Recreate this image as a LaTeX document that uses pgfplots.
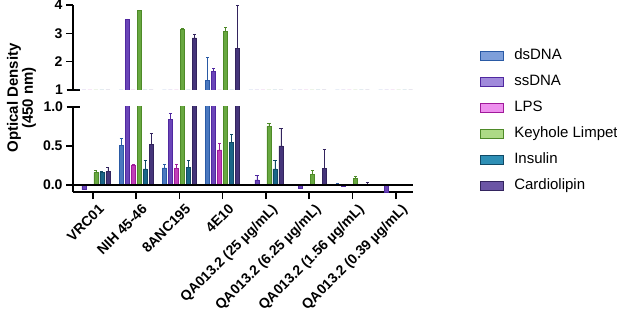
\documentclass[border=0pt]{standalone}
\usepackage{pgfplots}
\pgfplotsset{compat=1.18}
\usepackage{pgfplotstable}
\usepackage{fontspec}
\setmainfont{Liberation Sans}

\definecolor{dsL}{HTML}{2A5AA5}\definecolor{dsF}{HTML}{4A78C0}\definecolor{dsG}{HTML}{7E9FDA}
\definecolor{ssL}{HTML}{5028A0}\definecolor{ssF}{HTML}{6A45B8}\definecolor{ssG}{HTML}{A08ADB}
\definecolor{lpL}{HTML}{A01A9A}\definecolor{lpF}{HTML}{C040B8}\definecolor{lpG}{HTML}{EE90EE}
\definecolor{khL}{HTML}{4E8A28}\definecolor{khF}{HTML}{68A840}\definecolor{khG}{HTML}{ADDA86}
\definecolor{inL}{HTML}{104A66}\definecolor{inF}{HTML}{1A6688}\definecolor{inG}{HTML}{2E8FB5}
\definecolor{caL}{HTML}{33245E}\definecolor{caF}{HTML}{45357A}\definecolor{caG}{HTML}{6B55A5}

\pgfplotstableread{
x y e
0 0.005 0
1 0.51 0.09
2 0.22 0.04
3 1.35 0.79
4 0.01 0
5 0.003 0
6 0.01 0.01
7 0.003 0
}\dsdna
\pgfplotstableread{
x y e
0 -0.06 0
1 3.48 0.03
2 0.84 0.08
3 1.67 0.10
4 0.065 0.06
5 -0.04 0
6 -0.02 0
7 -0.09 0
}\ssdna
\pgfplotstableread{
x y e
0 0.003 0
1 0.25 0.02
2 0.21 0.06
3 0.45 0.08
4 0.003 0
5 0.003 0
6 0.003 0
7 0.003 0
}\lps
\pgfplotstableread{
x y e
0 0.16 0.03
1 3.80 0.02
2 3.15 0.04
3 3.07 0.15
4 0.75 0.04
5 0.14 0.05
6 0.085 0.03
7 0.005 0
}\klh
\pgfplotstableread{
x y e
0 0.163 0.01
1 0.206 0.11
2 0.23 0.09
3 0.545 0.10
4 0.206 0.11
5 0.01 0
6 0.005 0
7 0.005 0
}\insulin
\pgfplotstableread{
x y e
0 0.17 0.05
1 0.52 0.14
2 2.84 0.14
3 2.47 1.53
4 0.50 0.22
5 0.21 0.25
6 0.01 0.03
7 0.01 0
}\cardio

\pgfplotsset{
  brk/.style={
    scale only axis, width=340pt, height=85pt,
    xmin=-0.46, xmax=7.4,
    ybar=2pt, bar width=4pt,
    axis line style={-, line width=1.6pt, black},
    tick align=outside,
    major tick length=7pt,
    every tick/.style={black, line width=1.6pt},
    /pgf/number format/assume math mode=true,
    tick label style={font=\bfseries\fontsize{14}{16}\selectfont},
  },
  ser/.style n args={2}{draw=#1, fill=#2, line width=0.6pt,
    error bars/y dir=plus, error bars/y explicit,
    error bars/error bar style={#1, line width=0.7pt},
    error bars/error mark options={#1, rotate=90, mark size=1.6pt, line width=0.7pt}},
}

\begin{document}
\begin{tikzpicture}
\useasboundingbox (0,0) rectangle (617pt,313pt);

% top panel
\begin{axis}[brk, at={(73pt,223pt)}, anchor=south west,
  ymin=1, ymax=4,
  axis x line=none, axis y line*=left,
  ytick={2,3,4}, extra y ticks={1}, extra y tick labels={1},
  extra y tick style={tick align=center, major tick length=13pt},
]
\addplot[ser={dsL}{dsF}] table[x=x,y=y,y error plus=e]{\dsdna};
\addplot[ser={ssL}{ssF}] table[x=x,y=y,y error plus=e]{\ssdna};
\addplot[ser={lpL}{lpF}] table[x=x,y=y,y error plus=e]{\lps};
\addplot[ser={khL}{khF}] table[x=x,y=y,y error plus=e]{\klh};
\addplot[ser={inL}{inF}] table[x=x,y=y,y error plus=e]{\insulin};
\addplot[ser={caL}{caF}] table[x=x,y=y,y error plus=e]{\cardio};
\end{axis}

% bottom panel
\begin{axis}[brk, at={(73pt,121pt)}, anchor=south west,
  ymin=-0.09, ymax=1.0,
  axis x line*=bottom, axis y line*=left,
  ytick={0,0.5}, extra y ticks={1}, extra y tick labels={1.0},
  extra y tick style={tick align=center, major tick length=13pt},
  yticklabel style={/pgf/number format/.cd, fixed, fixed zerofill, precision=1},
  xtick={0,...,7},
  xticklabels={VRC01, NIH 45-46, 8ANC195, 4E10, {QA013.2 (25 µg/mL)}, {QA013.2 (6.25 µg/mL)}, {QA013.2 (1.56 µg/mL)}, {QA013.2 (0.39 µg/mL)}},
  xticklabel style={rotate=45, anchor=north east, xshift=4pt, yshift=-3pt, font=\bfseries\fontsize{14}{16}\selectfont},
  legend style={at={(1.197,1.682)}, anchor=north west, draw=none, fill=none,
    inner sep=0pt, outer sep=0pt, row sep=12.5pt, column sep=10pt,
    font=\fontsize{15}{17}\selectfont,
    nodes={inner sep=0pt, text height=10.5pt, text depth=3pt}},
  legend cell align=left,
  legend image code/.code={\draw[#1, line width=1.3pt] (0pt,-4.5pt) rectangle (23pt,4.5pt);},
]
\addplot[legend image post style={fill=dsG}, ser={dsL}{dsF}] table[x=x,y=y,y error plus=e]{\dsdna};
\addplot[legend image post style={fill=ssG}, ser={ssL}{ssF}] table[x=x,y=y,y error plus=e]{\ssdna};
\addplot[legend image post style={fill=lpG}, ser={lpL}{lpF}] table[x=x,y=y,y error plus=e]{\lps};
\addplot[legend image post style={fill=khG}, ser={khL}{khF}] table[x=x,y=y,y error plus=e]{\klh};
\addplot[legend image post style={fill=inG}, ser={inL}{inF}] table[x=x,y=y,y error plus=e]{\insulin};
\addplot[legend image post style={fill=caG}, ser={caL}{caF}] table[x=x,y=y,y error plus=e]{\cardio};
\legend{dsDNA, ssDNA, LPS, Keyhole Limpet, Insulin, Cardiolipin}
\draw[black, line width=1.6pt] (axis cs:-0.46,0) -- (axis cs:7.4,0);
\end{axis}

\node[rotate=90, align=center, font=\bfseries\fontsize{15}{12.5}\selectfont] at (21.5pt,215pt) {Optical Density\\(450 nm)};
\end{tikzpicture}
\end{document}
